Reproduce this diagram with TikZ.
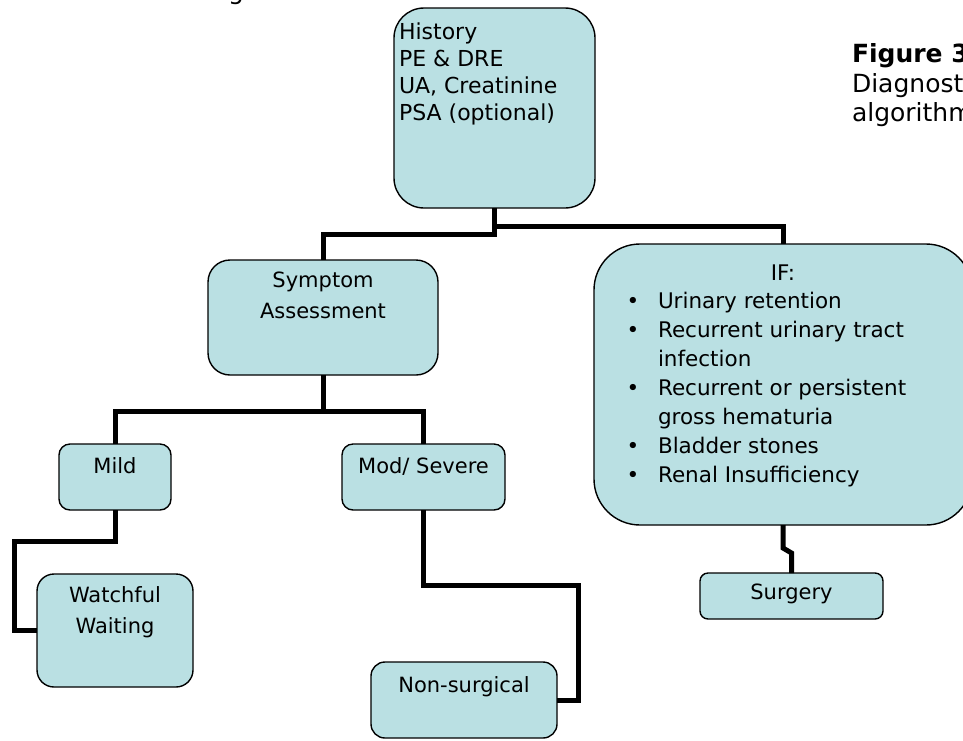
\documentclass[tikz,border=0pt]{standalone}
\usepackage{fontspec}
\setmainfont{DejaVu Sans}
\definecolor{boxfill}{RGB}{186,224,227}
\begin{document}
\begin{tikzpicture}[x=1pt,y=-1pt,
  box/.style={draw=black, line width=1.4pt, fill=boxfill, inner sep=0pt, outer sep=0pt},
  conn/.style={draw=black, line width=5pt, line join=miter},
  txt/.style={inner sep=0pt, outer sep=0pt, anchor=base},
  txtl/.style={inner sep=0pt, outer sep=0pt, anchor=base west},
  fa/.style={font=\fontsize{21}{25}\selectfont},
  fh/.style={font=\fontsize{22}{26}\selectfont},
  fi/.style={font=\fontsize{21.5}{26}\selectfont},
  ft/.style={font=\fontsize{25}{30}\selectfont},
  ftb/.style={font=\fontsize{25}{30}\selectfont\bfseries},
]
\useasboundingbox (0,0) rectangle (963,740);

% boxes
\node[box, rounded corners=30pt, minimum width=201pt, minimum height=200pt] (history) at (494.5,108) {};
\node[box, rounded corners=22pt, minimum width=230pt, minimum height=115pt] (symptom) at (323,317.5) {};
\node[box, rounded corners=46pt, minimum width=378pt, minimum height=281pt] (ifbox) at (783,384.5) {};
\node[box, rounded corners=11pt, minimum width=112pt, minimum height=66pt] (mild) at (115,477) {};
\node[box, rounded corners=11pt, minimum width=163pt, minimum height=66pt] (mod) at (423.5,477) {};
\node[box, rounded corners=17pt, minimum width=156pt, minimum height=113pt] (watch) at (115,630.5) {};
\node[box, rounded corners=14pt, minimum width=186pt, minimum height=76pt] (nons) at (464,700) {};
\node[box, rounded corners=8pt, minimum width=183pt, minimum height=46pt] (surgery) at (791.5,596) {};

% junction points
\coordinate (jA) at (494.5,234);
\coordinate (jB) at (494.5,226);
\coordinate (jC) at (323,411);
\coordinate (jD) at (14.5,541);
\coordinate (jE) at (578.6,585.7);
\coordinate (jF1) at (783,548);
\coordinate (jF2) at (791.5,553);

% connectors
\draw[conn] (history.south) -- (jA) -| (symptom.north);
\draw[conn] (jB) -| (ifbox.north);
\draw[conn] (symptom.south) -- (jC);
\draw[conn] (mild.north) |- (jC) -| (mod.north);
\draw[conn] (mild.south) |- (jD) |- (watch.west);
\draw[conn] (mod.south) |- (jE) |- (nons.east);
\draw[conn] (ifbox.south) -- (jF1) -- (jF2) -- (surgery.north);

% texts
\node[txtl, fh] (h1) at (399,39.5) {History};
\node[txtl, fh] (h2) at (399,66.5) {PE \& DRE};
\node[txtl, fh] (h3) at (399,93.5) {UA, Creatinine};
\node[txtl, fh] (h4) at (399,120.5) {PSA (optional)};

\node[txt, fa] (s1) at (323,287) {Symptom};
\node[txt, fa] (s2) at (323,318) {Assessment};

\node[txt, fi] (i0) at (783,280) {IF:};
\node[txt, fi] (b1) at (633,308) {•};
\node[txtl, fi] (i1) at (658,308) {Urinary retention};
\node[txt, fi] (b2) at (633,337) {•};
\node[txtl, fi] (i2) at (658,337) {Recurrent urinary tract};
\node[txtl, fi] (i3) at (658,366) {infection};
\node[txt, fi] (b3) at (633,395) {•};
\node[txtl, fi] (i4) at (658,395) {Recurrent or persistent};
\node[txtl, fi] (i5) at (658,424) {gross hematuria};
\node[txt, fi] (b4) at (633,453) {•};
\node[txtl, fi] (i6) at (658,453) {Bladder stones};
\node[txt, fi] (b5) at (633,482) {•};
\node[txtl, fi] (i7) at (658,482) {Renal Insufficiency};

\node[txt, fa] (m1) at (115,473) {Mild};
\node[txt, fa] (m2) at (423.5,473) {Mod/ Severe};
\node[txt, fa] (w1) at (115,602) {Watchful};
\node[txt, fa] (w2) at (115,633) {Waiting};
\node[txt, fa] (n1) at (464,692) {Non-surgical};
\node[txt, fa] (g1) at (791.5,599) {Surgery};

\node[txtl, ftb] (t1) at (852,62) {Figure 3};
\node[txtl, ft] (t2) at (852,92) {Diagnostic};
\node[txtl, ft] (t3) at (852,121) {algorithm};
\node[txtl, ft] (t0) at (228,-1) {g};
\end{tikzpicture}
\end{document}
